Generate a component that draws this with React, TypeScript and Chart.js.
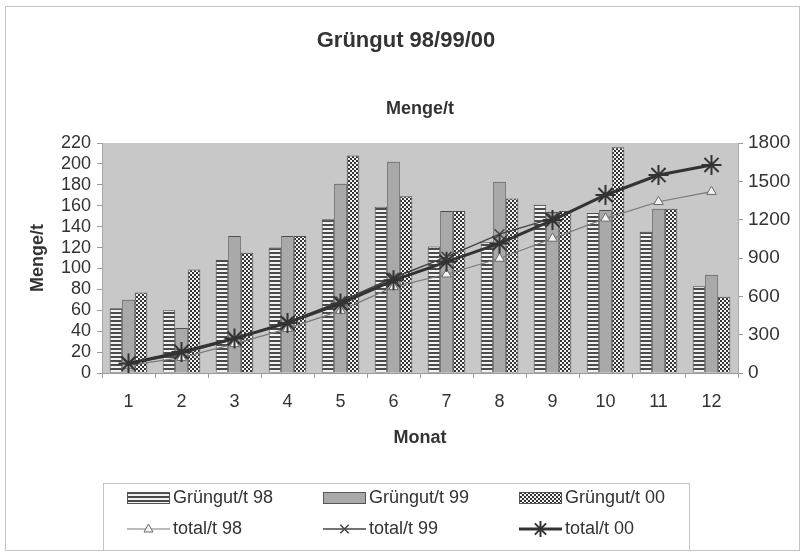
import React, { useEffect, useRef } from "react";
import { Chart, registerables } from "chart.js";

Chart.register(...registerables);

const months = ["1", "2", "3", "4", "5", "6", "7", "8", "9", "10", "11", "12"];
const gruen98 = [62, 60, 108, 120, 147, 159, 121, 125, 161, 153, 135, 83];
const gruen99 = [70, 43, 131, 131, 181, 202, 155, 183, 154, 156, 157, 94];
const gruen00 = [77, 99, 115, 131, 208, 169, 155, 167, 155, 216, 157, 73];
const total98 = [60, 120, 228, 347, 488, 674, 773, 896, 1053, 1210, 1340, 1419];
const total99 = [70, 150, 265, 400, 560, 745, 909, 1087, 1210, null, null, null];
const total00 = [74, 165, 270, 392, 544, 725, 870, 1014, 1197, 1393, 1549, 1628];

const FONT = '"Liberation Sans", Arial, sans-serif';

function stripePattern(ctx: CanvasRenderingContext2D) {
  const c = document.createElement("canvas");
  c.width = 4;
  c.height = 4;
  const g = c.getContext("2d")!;
  g.fillStyle = "#f2f2f2";
  g.fillRect(0, 0, 4, 4);
  g.fillStyle = "#4a4a4a";
  g.fillRect(0, 0, 4, 2);
  return ctx.createPattern(c, "repeat")!;
}

function checkerPattern(ctx: CanvasRenderingContext2D) {
  const c = document.createElement("canvas");
  c.width = 4;
  c.height = 4;
  const g = c.getContext("2d")!;
  g.fillStyle = "#f4f4f4";
  g.fillRect(0, 0, 4, 4);
  g.fillStyle = "#333333";
  g.fillRect(0, 0, 2, 2);
  g.fillRect(2, 2, 2, 2);
  return ctx.createPattern(c, "repeat")!;
}

function drawPoint(c: CanvasRenderingContext2D, style: string, r: number, x: number, y: number) {
  c.beginPath();
  if (style === "triangle") {
    c.moveTo(x, y - r);
    c.lineTo(x + r * 0.9, y + r * 0.6);
    c.lineTo(x - r * 0.9, y + r * 0.6);
    c.closePath();
    c.fill();
    c.stroke();
  } else if (style === "crossRot") {
    const d = r * 0.707;
    c.moveTo(x - d, y - d);
    c.lineTo(x + d, y + d);
    c.moveTo(x + d, y - d);
    c.lineTo(x - d, y + d);
    c.stroke();
  } else {
    for (let k = 0; k < 4; k++) {
      const ang = (k * Math.PI) / 4;
      c.moveTo(x + Math.cos(ang) * r, y + Math.sin(ang) * r);
      c.lineTo(x - Math.cos(ang) * r, y - Math.sin(ang) * r);
    }
    c.stroke();
  }
}

export default function App() {
  const ref = useRef<HTMLCanvasElement | null>(null);

  useEffect(() => {
    document.body.style.margin = "0";
    const canvas = ref.current!;
    const ctx = canvas.getContext("2d")!;
    const stripes = stripePattern(ctx);
    const checks = checkerPattern(ctx);
    const solid99 = "#a9a9a9";

    const bgPlugin = {
      id: "bg",
      beforeDraw(chart: any) {
        const c = chart.ctx;
        const a = chart.chartArea;
        c.save();
        c.fillStyle = "#ffffff";
        c.fillRect(0, 0, chart.width, chart.height);
        c.strokeStyle = "#c4c4c4";
        c.lineWidth = 1;
        c.strokeRect(5.5, 6.5, 794, 544);
        c.fillStyle = "#c8c8c8";
        c.fillRect(a.left, a.top, a.right - a.left, a.bottom - a.top);
        c.restore();
      },
      afterDraw(chart: any) {
        const c = chart.ctx;
        const a = chart.chartArea;
        const cx = (a.left + a.right) / 2;
        c.save();
        c.fillStyle = "#333333";
        c.textAlign = "center";
        c.textBaseline = "middle";
        c.font = `bold 22px ${FONT}`;
        c.fillText("Grüngut 98/99/00", cx - 14, 41);
        c.font = `bold 18px ${FONT}`;
        c.fillText("Menge/t", cx, 109);
        c.fillText("Monat", cx, 438);
        c.save();
        c.translate(38, (a.top + a.bottom) / 2);
        c.rotate(-Math.PI / 2);
        c.fillText("Menge/t", 0, 0);
        c.restore();

        // legend
        c.strokeStyle = "#c4c4c4";
        c.lineWidth = 1;
        c.fillStyle = "#ffffff";
        c.fillRect(103.5, 483.5, 586, 67);
        c.strokeRect(103.5, 483.5, 586, 67);
        const cols = [127, 323, 519];
        const row1 = 498;
        const row2 = 529;
        const fills = [stripes, solid99, checks];
        const barLabels = ["Grüngut/t 98", "Grüngut/t 99", "Grüngut/t 00"];
        const lineLabels = ["total/t 98", "total/t 99", "total/t 00"];
        c.font = `18px ${FONT}`;
        c.textAlign = "left";
        for (let i = 0; i < 3; i++) {
          const x = cols[i];
          c.fillStyle = fills[i] as any;
          c.fillRect(x, row1 - 6, 43, 12);
          c.strokeStyle = "#555555";
          c.lineWidth = 1;
          c.strokeRect(x + 0.5, row1 - 6 + 0.5, 42, 11);
          c.fillStyle = "#333333";
          c.fillText(barLabels[i], x + 46, row1);
        }
        const lineColors = ["#7a7a7a", "#454545", "#333333"];
        const lineWidths = [1.2, 1.5, 3];
        const styles = ["triangle", "crossRot", "star"];
        const radii = [5, 6, 8];
        for (let i = 0; i < 3; i++) {
          const x = cols[i];
          c.strokeStyle = lineColors[i];
          c.lineWidth = lineWidths[i];
          c.beginPath();
          c.moveTo(x, row2);
          c.lineTo(x + 43, row2);
          c.stroke();
          const ds = chart.data.datasets[3 + i];
          c.fillStyle = ds.pointBackgroundColor;
          c.strokeStyle = ds.pointBorderColor;
          c.lineWidth = ds.pointBorderWidth;
          drawPoint(c, styles[i], radii[i], x + 21.5, row2);
          c.fillStyle = "#333333";
          c.fillText(lineLabels[i], x + 46, row2);
        }
        c.restore();
      },
    };

    const barCommon = {
      type: "bar",
      borderColor: "#4d4d4d",
      borderWidth: 1,
      yAxisID: "y",
      order: 2,
      categoryPercentage: 0.71,
      barPercentage: 1.0,
    };

    const chart = new Chart(canvas, {
      data: {
        labels: months,
        datasets: [
          { ...barCommon, label: "Grüngut/t 98", data: gruen98, backgroundColor: stripes as any },
          { ...barCommon, label: "Grüngut/t 99", data: gruen99, backgroundColor: solid99 },
          { ...barCommon, label: "Grüngut/t 00", data: gruen00, backgroundColor: checks as any },
          {
            type: "line",
            label: "total/t 98",
            data: total98,
            borderColor: "#7a7a7a",
            borderWidth: 1.2,
            pointStyle: "triangle",
            pointRadius: 5.5,
            pointBackgroundColor: "#f4f4f4",
            pointBorderColor: "#6a6a6a",
            pointBorderWidth: 1,
            yAxisID: "y1",
            order: 1,
            tension: 0,
          },
          {
            type: "line",
            label: "total/t 99",
            data: total99,
            borderColor: "#454545",
            borderWidth: 1.5,
            pointStyle: "crossRot",
            pointRadius: 7,
            pointBackgroundColor: "#454545",
            pointBorderColor: "#454545",
            pointBorderWidth: 1.5,
            yAxisID: "y1",
            order: 1,
            tension: 0,
          },
          {
            type: "line",
            label: "total/t 00",
            data: total00,
            borderColor: "#333333",
            borderWidth: 3,
            pointStyle: "star",
            pointRadius: 10,
            pointBackgroundColor: "#333333",
            pointBorderColor: "#333333",
            pointBorderWidth: 2,
            yAxisID: "y1",
            order: 0,
            tension: 0,
          },
        ] as any,
      },
      options: {
        animation: false,
        responsive: false,
        devicePixelRatio: 1,
        layout: { padding: { top: 143, left: 0, right: 0, bottom: 130 } },
        plugins: {
          legend: { display: false },
          title: { display: false },
          tooltip: { enabled: false },
        },
        scales: {
          x: {
            type: "category",
            offset: true,
            grid: {
              offset: true,
              drawOnChartArea: false,
              drawTicks: true,
              tickLength: 5,
              color: "#9a9a9a",
            },
            border: { display: true, color: "#9a9a9a" },
            ticks: {
              color: "#333333",
              font: { family: FONT, size: 18 },
              padding: 13,
              maxRotation: 0,
            },
            afterFit(scale: any) {
              scale.height = 50;
            },
          },
          y: {
            type: "linear",
            position: "left",
            min: 0,
            max: 220,
            ticks: {
              stepSize: 20,
              autoSkip: false,
              maxTicksLimit: 30,
              color: "#333333",
              font: { family: FONT, size: 18 },
              padding: 6,
              callback: (v: any) => String(v),
            },
            grid: {
              drawOnChartArea: false,
              drawTicks: true,
              tickLength: 5,
              color: "#9a9a9a",
            },
            border: { display: true, color: "#a8a8a8" },
            afterFit(scale: any) {
              scale.width = 102;
            },
          },
          y1: {
            type: "linear",
            position: "right",
            min: 0,
            max: 1800,
            ticks: {
              stepSize: 300,
              autoSkip: false,
              color: "#333333",
              font: { family: FONT, size: 19 },
              padding: 5,
              callback: (v: any) => String(v),
            },
            grid: {
              drawOnChartArea: false,
              drawTicks: true,
              tickLength: 5,
              color: "#9a9a9a",
            },
            border: { display: true, color: "#a8a8a8" },
            afterFit(scale: any) {
              scale.width = 66;
            },
          },
        },
      },
      plugins: [bgPlugin],
    });

    return () => chart.destroy();
  }, []);

  return (
    <div style={{ width: 804, height: 553 }}>
      <canvas ref={ref} width={804} height={553} style={{ display: "block" }} />
    </div>
  );
}
